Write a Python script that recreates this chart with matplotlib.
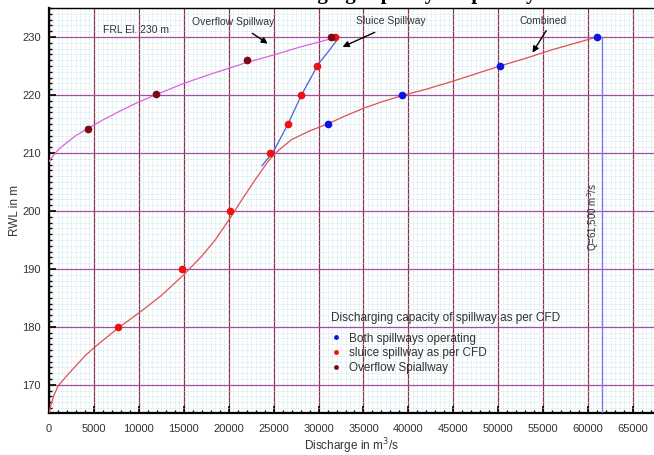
import matplotlib
matplotlib.use("Agg")
import matplotlib.pyplot as plt
from matplotlib.ticker import MultipleLocator

plt.rcParams['font.family'] = ['Liberation Sans', 'DejaVu Sans']

# ---- data ----
both_q = [31000, 39250, 50200, 60950]
both_h = [215, 220, 225, 230]

sluice_q = [7700, 14850, 20150, 24600, 26650, 28050, 29850, 31800]
sluice_h = [180, 190, 200, 210, 215, 220, 225, 230]

overflow_q = [4350, 11900, 22000, 31400]
overflow_h = [214.2, 220.1, 226.0, 230]

overflow_curve_q = [0, 300, 700, 1200, 2000, 3000, 4300, 6000, 8000, 10000, 12000,
                    15000, 18000, 20000, 22000, 25000, 28000, 30000, 32000]
overflow_curve_h = [208.5, 209.2, 210.0, 210.8, 211.8, 213.0, 214.2, 215.7, 217.3,
                    218.8, 220.1, 222.0, 223.6, 224.6, 225.6, 226.9, 228.3, 229.1,
                    230.0]

combined_curve_q = [0, 200, 500, 1000, 2000, 3000, 4000, 5000, 6500, 7700, 10000,
                    12500, 15000, 17000, 18500, 20000, 21500, 23000, 24500, 25500,
                    27000, 29000, 31000, 33000, 35000, 37000, 39300, 42000, 45000,
                    48000, 50200, 53000, 56000, 58500, 61000]
combined_curve_h = [165.2, 166.5, 168.0, 169.8, 171.6, 173.3, 175.0, 176.4, 178.3,
                    179.8, 182.4, 185.4, 189.0, 192.2, 195.0, 198.4, 202.0, 205.5,
                    208.8, 210.4, 212.3, 213.8, 215.0, 216.4, 217.7, 218.8, 219.9,
                    221.0, 222.4, 223.9, 225.0, 226.3, 227.8, 228.9, 230.0]

sluice_curve_q = [23700, 25000, 26600, 28100, 30000, 31100, 32300]
sluice_curve_h = [207.8, 210.3, 215.0, 220.0, 225.4, 227.5, 230.0]

q_max = 61500
frl = 230

x_ticks = list(range(0, 65001, 5000))
y_ticks = [170, 180, 190, 200, 210, 220, 230]

# ---- figure ----
fig = plt.figure(figsize=(6.54, 4.55), dpi=100)
ax = fig.add_axes([49 / 654, 1 - 412.7 / 455, 1 - 49 / 654, (412.7 - 8) / 455])

ax.set_xlim(0, 67335)
ax.set_ylim(165.2, 235)

ax.set_xticks(x_ticks)
ax.set_yticks(y_ticks)
ax.xaxis.set_minor_locator(MultipleLocator(1000))
ax.yaxis.set_minor_locator(MultipleLocator(1))

# grids
minor_col = '#c8e4ec'
ax.yaxis.grid(which='minor', color=minor_col, linestyle=(0, (1, 1)), linewidth=0.6)
for xm in range(500, 67001, 500):
    if xm % 5000:
        ax.axvline(xm, color=minor_col, linestyle=(0, (1, 1)), linewidth=0.6, zorder=0)
ax.xaxis.grid(which='major', color='#8a3050', linewidth=0.9)
ax.yaxis.grid(which='major', color='#a050a0', linewidth=0.9)
ax.set_axisbelow(True)

ax.tick_params(which='major', direction='in', length=5, width=1.2, color='black',
               labelsize=8, labelcolor='#333333', pad=8)
ax.tick_params(axis='y', which='major', pad=6)
ax.tick_params(which='minor', direction='in', length=2.5, width=1.0, color='black')

for s in ['left', 'bottom']:
    ax.spines[s].set_linewidth(1.6)
ax.spines['top'].set_linewidth(1.0)
ax.spines['right'].set_visible(False)

# curves
ax.plot(overflow_curve_q, overflow_curve_h, color='#e060e0', linewidth=0.9, zorder=3)
ax.plot(combined_curve_q, combined_curve_h, color='#e05050', linewidth=0.9, zorder=3)
ax.plot(sluice_curve_q, sluice_curve_h, color='#4a5ee0', linewidth=0.9, zorder=3)
ax.plot([q_max, q_max], [165.2, frl], color='#7a7af0', linewidth=1.0, zorder=3)
ax.plot([both_q[-1], q_max], [frl, frl], color='#7a7af0', linewidth=1.0, zorder=3)

# points
ax.plot(both_q, both_h, 'o', color='#0a14e6', markersize=4.5, zorder=5,
        label='Both spillways operating')
ax.plot(sluice_q, sluice_h, 'o', color='#f01010', markersize=4.5, zorder=5,
        label='sluice spillway as per CFD')
ax.plot(overflow_q, overflow_h, 'o', color='#7a0a14', markersize=4.5, zorder=5,
        label='Overflow Spiallway')

leg = ax.legend(title='Discharging capacity of spillway as per CFD', frameon=False,
                loc='upper left', bbox_to_anchor=(0.458, 0.26), fontsize=8.5,
                title_fontsize=8.5, markerscale=0.55, handlelength=0.8,
                handletextpad=0.7, labelspacing=0.22, borderaxespad=0)
leg._legend_box.align = 'left'
leg._legend_box.sep = 6
for t in leg.get_texts():
    t.set_color('#333333')
leg.get_title().set_color('#333333')

# annotations
ax.text(6000, 231.2, 'FRL El. 230 m', fontsize=7.5, color='#333333', va='center')
ax.text(20500, 232.5, 'Overflow Spillway', fontsize=7.5, color='#333333',
        ha='center', va='center')
ax.text(38000, 232.8, 'Sluice Spillway', fontsize=7.5, color='#333333',
        ha='center', va='center')
ax.text(55000, 232.8, 'Combined', fontsize=7.5, color='#333333',
        ha='center', va='center')
arrow = dict(arrowstyle='-|>', color='black', linewidth=1.0, mutation_scale=9)
ax.annotate('', xy=(24600, 228.6), xytext=(22370, 230.9), arrowprops=arrow)
ax.annotate('', xy=(32390, 228.1), xytext=(36540, 231.0), arrowprops=arrow)
ax.annotate('', xy=(53650, 226.9), xytext=(55500, 231.5), arrowprops=arrow)

ax.text(60550, 199, 'Q=61,500 m$^3$/s', rotation=90, fontsize=7, color='#333333',
        ha='center', va='center')

ax.set_xlabel('Discharge in m$^3$/s', fontsize=8.5, color='#333333', labelpad=2)
ax.set_ylabel('RWL in m', fontsize=8.5, color='#333333', labelpad=1)

# clipped caption remnant at the very top (only descenders visible)
fig.text(0.60, 1 + 1.5 / 455, 'Discharging capacity of spillway', fontsize=15,
         family='Liberation Serif', weight='bold', ha='center', va='baseline')

fig.savefig('out.png', dpi=100)
